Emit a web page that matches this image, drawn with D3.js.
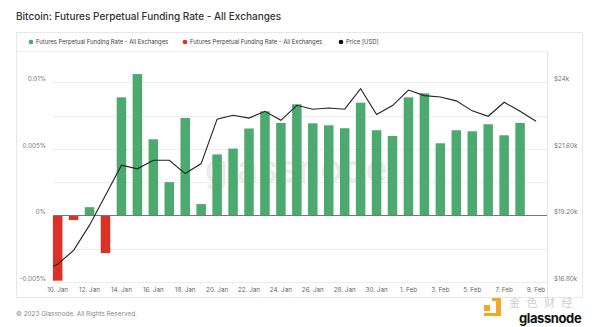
<!DOCTYPE html>
<html>
<head>
<meta charset="utf-8">
<script src="https://cdn.jsdelivr.net/npm/d3@7"></script>
<style>
  html, body { margin: 0; padding: 0; background: #fff; }
  svg { display: block; font-family: Inter, "Open Sans", sans-serif; }
</style>
</head>
<body>
<svg id="chart" width="600" height="327"></svg>
<script>
// ---------- data ----------
const barDates = ["2023-01-10","2023-01-11","2023-01-12","2023-01-13","2023-01-14","2023-01-15","2023-01-16","2023-01-17","2023-01-18","2023-01-19","2023-01-20","2023-01-21","2023-01-22","2023-01-23","2023-01-24","2023-01-25","2023-01-26","2023-01-27","2023-01-28","2023-01-29","2023-01-30","2023-01-31","2023-02-01","2023-02-02","2023-02-03","2023-02-04","2023-02-05","2023-02-06","2023-02-07","2023-02-08"];
const fundingRate = [-0.0049, -0.00035, 0.00062, -0.00283, 0.00887, 0.01062, 0.00572, 0.0025, 0.00732, 0.00085, 0.00458, 0.00502, 0.00653, 0.00782, 0.00695, 0.00835, 0.00692, 0.00677, 0.00655, 0.00847, 0.0064, 0.00597, 0.00887, 0.00917, 0.00542, 0.0064, 0.00632, 0.00685, 0.00602, 0.00695];
const priceDates = ["2023-01-09","2023-01-10","2023-01-11","2023-01-12","2023-01-13","2023-01-14","2023-01-15","2023-01-16","2023-01-17","2023-01-18","2023-01-19","2023-01-20","2023-01-21","2023-01-22","2023-01-23","2023-01-24","2023-01-25","2023-01-26","2023-01-27","2023-01-28","2023-01-29","2023-01-30","2023-01-31","2023-02-01","2023-02-02","2023-02-03","2023-02-04","2023-02-05","2023-02-06","2023-02-07","2023-02-08","2023-02-09"];
const priceUSD = [17190, 17440, 17940, 18850, 19930, 21010, 20880, 21190, 21190, 20710, 21070, 22670, 22810, 22710, 22955, 22630, 23170, 23030, 23075, 23030, 23770, 22840, 23160, 23720, 23520, 23470, 23330, 22970, 22775, 23280, 22955, 22595];
const xTickDates = ["2023-01-10","2023-01-12","2023-01-14","2023-01-16","2023-01-18","2023-01-20","2023-01-22","2023-01-24","2023-01-26","2023-01-28","2023-01-30","2023-02-01","2023-02-03","2023-02-05","2023-02-07","2023-02-09"];
const xTickLabels = ["10. Jan","12. Jan","14. Jan","16. Jan","18. Jan","20. Jan","22. Jan","24. Jan","26. Jan","28. Jan","30. Jan","1. Feb","3. Feb","5. Feb","7. Feb","9. Feb"];
const leftTicks = [-0.005, 0, 0.005, 0.01];
const leftTickLabels = ["-0.005%", "0%", "0.005%", "0.01%"];
const gridTicks = [-0.005, -0.0025, 0, 0.0025, 0.005, 0.0075, 0.01];
const rightTicks = [16800, 19200, 21600, 24000];
const rightTickLabels = ["$16.80k", "$19.20k", "$21.60k", "$24k"];
const legendLabels = ["Futures Perpetual Funding Rate - All Exchanges", "Futures Perpetual Funding Rate - All Exchanges", "Price [USD]"];

// ---------- layout ----------
const GREEN = "#4caa6f", RED = "#dc3125";
const parse = d3.utcParse("%Y-%m-%d");
const svg = d3.select("#chart");
const plot = { left: 53, right: 547, top: 51, bottom: 282 };

const x = d3.scaleUtc()
  .domain([new Date(Date.UTC(2023,0,9,17)), new Date(Date.UTC(2023,1,9,16,30))])
  .range([plot.left, plot.right]);
const y = d3.scaleLinear().domain([-0.005, 0.01]).range([282, 82.3]);
const yP = d3.scaleLinear().domain([16800, 24000]).range([282, 82.3]);

// title
svg.append("text").attr("x", 16).attr("y", 20)
  .attr("font-size", 10).attr("font-weight", 500).attr("fill", "#333")
  .text("Bitcoin: Futures Perpetual Funding Rate - All Exchanges");

// panel
svg.append("rect").attr("x", 16.5).attr("y", 32.5).attr("width", 566).attr("height", 265)
  .attr("fill", "none").attr("stroke", "#e8e8e8");
svg.append("line").attr("x1", 17).attr("x2", plot.right).attr("y1", plot.top + 0.5).attr("y2", plot.top + 0.5)
  .attr("stroke", "#efefef");
svg.append("line").attr("x1", plot.right + 0.5).attr("x2", plot.right + 0.5).attr("y1", plot.top).attr("y2", 297)
  .attr("stroke", "#e4e4e4");

// legend
const legendX = [31, 185, 341];
const legendColors = [GREEN, RED, "#111"];
legendLabels.forEach((t, i) => {
  svg.append("circle").attr("cx", legendX[i]).attr("cy", 42).attr("r", 2.3).attr("fill", legendColors[i]);
  svg.append("text").attr("x", legendX[i] + 5).attr("y", 44.2).attr("font-size", 5.9).attr("fill", "#444").text(t);
});

// grid
svg.append("g").selectAll("line").data(gridTicks).join("line")
  .attr("x1", plot.left).attr("x2", plot.right)
  .attr("y1", d => Math.round(y(d)) + 0.5).attr("y2", d => Math.round(y(d)) + 0.5)
  .attr("stroke", "#ececec");

// left axis labels
svg.append("g").selectAll("text").data(leftTicks).join("text")
  .attr("x", 46).attr("y", d => y(d) - 1).attr("text-anchor", "end")
  .attr("font-size", 6.3).attr("fill", "#777").text((d, i) => leftTickLabels[i]);

// right axis labels
svg.append("g").selectAll("text").data(rightTicks).join("text")
  .attr("x", 554).attr("y", d => yP(d) - 1)
  .attr("font-size", 6.3).attr("fill", "#777").text((d, i) => rightTickLabels[i]);

// x axis labels
svg.append("g").selectAll("text").data(xTickDates).join("text")
  .attr("x", d => x(parse(d))).attr("y", 292).attr("text-anchor", "middle")
  .attr("font-size", 6.3).attr("fill", "#666").text((d, i) => xTickLabels[i]);

// watermark (behind bars)
svg.append("text").attr("x", 296).attr("y", 182).attr("text-anchor", "middle")
  .attr("font-size", 38).attr("font-weight", 500).attr("fill", "#ebebeb")
  .attr("letter-spacing", -0.5).text("glassnode");

// bars
const bw = 9.5;
svg.append("g").selectAll("rect").data(fundingRate).join("rect")
  .attr("x", (d, i) => x(parse(barDates[i])) - bw / 2)
  .attr("width", bw)
  .attr("y", d => d >= 0 ? y(d) : y(0))
  .attr("height", d => Math.abs(y(d) - y(0)))
  .attr("fill", d => d >= 0 ? GREEN : RED);

// zero line
svg.append("line").attr("x1", plot.left).attr("x2", plot.right)
  .attr("y1", Math.round(y(0)) + 0.5).attr("y2", Math.round(y(0)) + 0.5)
  .attr("stroke", "#777").attr("stroke-width", 1);

// price line (clipped)
svg.append("clipPath").attr("id", "clip").append("rect")
  .attr("x", plot.left).attr("y", plot.top).attr("width", plot.right - plot.left).attr("height", plot.bottom - plot.top);
const line = d3.line().x((d, i) => x(parse(priceDates[i]))).y(d => yP(d));
svg.append("path").datum(priceUSD).attr("clip-path", "url(#clip)")
  .attr("d", line).attr("fill", "none").attr("stroke", "#222").attr("stroke-width", 1.1);

// footer
svg.append("text").attr("x", 16).attr("y", 316).attr("font-size", 6.4).attr("fill", "#888")
  .text("© 2023 Glassnode. All Rights Reserved.");

// bottom-right logo overlay
const logo = svg.append("g");
logo.append("rect").attr("x", 484).attr("y", 305).attr("width", 6).attr("height", 6).attr("fill", "#f5a623");
logo.append("path").attr("d", "M492,298 h9 v18 h-17 v-3 h12 v-12 h-4 z").attr("fill", "#f5a623");
logo.append("text").attr("x", 509).attr("y", 307).attr("font-size", 11)
  .attr("font-family", "'Noto Sans CJK SC', sans-serif").attr("fill", "#cfcfcf")
  .attr("letter-spacing", 6.5).text("金色财经");
logo.append("text").attr("x", 519).attr("y", 322.8).attr("font-size", 13).attr("font-weight", 700)
  .attr("fill", "#111").attr("letter-spacing", -0.4).text("glassnode");
</script>
</body>
</html>
